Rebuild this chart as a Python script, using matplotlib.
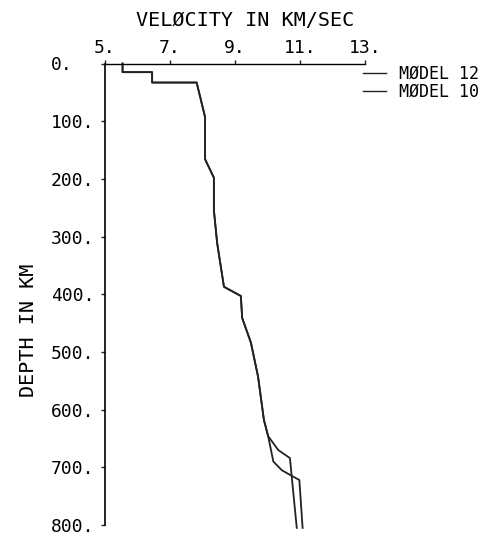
import matplotlib.pyplot as plt

# velocity (km/s) vs depth (km)
depth_common = [0, 15, 15, 33, 33, 93, 166, 198, 254, 311, 387, 403, 441, 484, 543, 618, 646]
vel_common = [5.54, 5.54, 6.45, 6.45, 7.82, 8.08, 8.08, 8.35, 8.35, 8.45, 8.66, 9.18, 9.22, 9.49, 9.71, 9.89, 10.02]

depth_a = [670, 684, 805]
vel_a = [10.33, 10.69, 10.90]

depth_b = [690, 705, 713, 722, 805]
vel_b = [10.18, 10.44, 10.69, 10.98, 11.08]

xticks = [5, 7, 9, 11, 13]
yticks = [0, 100, 200, 300, 400, 500, 600, 700, 800]

font = 'DejaVu Sans Mono'

fig = plt.figure(figsize=(4.93, 5.34), dpi=100)
ax = fig.add_axes([105/493, 1-525/534, 260/493, (525-63.5)/534])

ax.plot(vel_common + vel_a, depth_common + depth_a, color='#222222', lw=1.3,
        clip_on=False, label='MØDEL 12')
ax.plot(vel_common + vel_b, depth_common + depth_b, color='#222222', lw=1.3,
        clip_on=False, label='MØDEL 10')

ax.set_xlim(5, 13)
ax.set_ylim(800, 0)
ax.xaxis.tick_top()
ax.set_xticks(xticks)
ax.set_xticklabels([f'{v}.' for v in xticks], fontfamily=font, fontsize=13)
ax.set_yticks(yticks)
ax.set_yticklabels([f'{v}.' for v in yticks], fontfamily=font, fontsize=13)
for lab in ax.get_yticklabels():
    lab.set_horizontalalignment('left')
ax.tick_params(axis='x', direction='out', length=3, width=1, pad=2, color='#222222')
ax.tick_params(axis='y', direction='out', length=3, width=1, pad=36, color='#222222')

ax.spines['right'].set_visible(False)
ax.spines['bottom'].set_visible(False)
ax.spines['top'].set_linewidth(1)
ax.spines['left'].set_linewidth(1.2)

fig.text(245/493, 1-20/534, 'VELØCITY IN KM/SEC', ha='center', va='center',
         fontfamily=font, fontsize=14.5)
fig.text(28/493, 1-330/534, 'DEPTH IN KM', ha='center', va='center',
         rotation=90, fontfamily=font, fontsize=14.5)

leg = ax.legend(loc='upper left', bbox_to_anchor=(363/493, 1-65/534),
                bbox_transform=fig.transFigure, frameon=False, borderpad=0,
                borderaxespad=0, handlelength=1.4, handletextpad=0.75,
                labelspacing=0.0, prop={'family': font, 'size': 12})
for line in leg.get_lines():
    line.set_linewidth(1.0)

fig.savefig('out.png', dpi=100)
